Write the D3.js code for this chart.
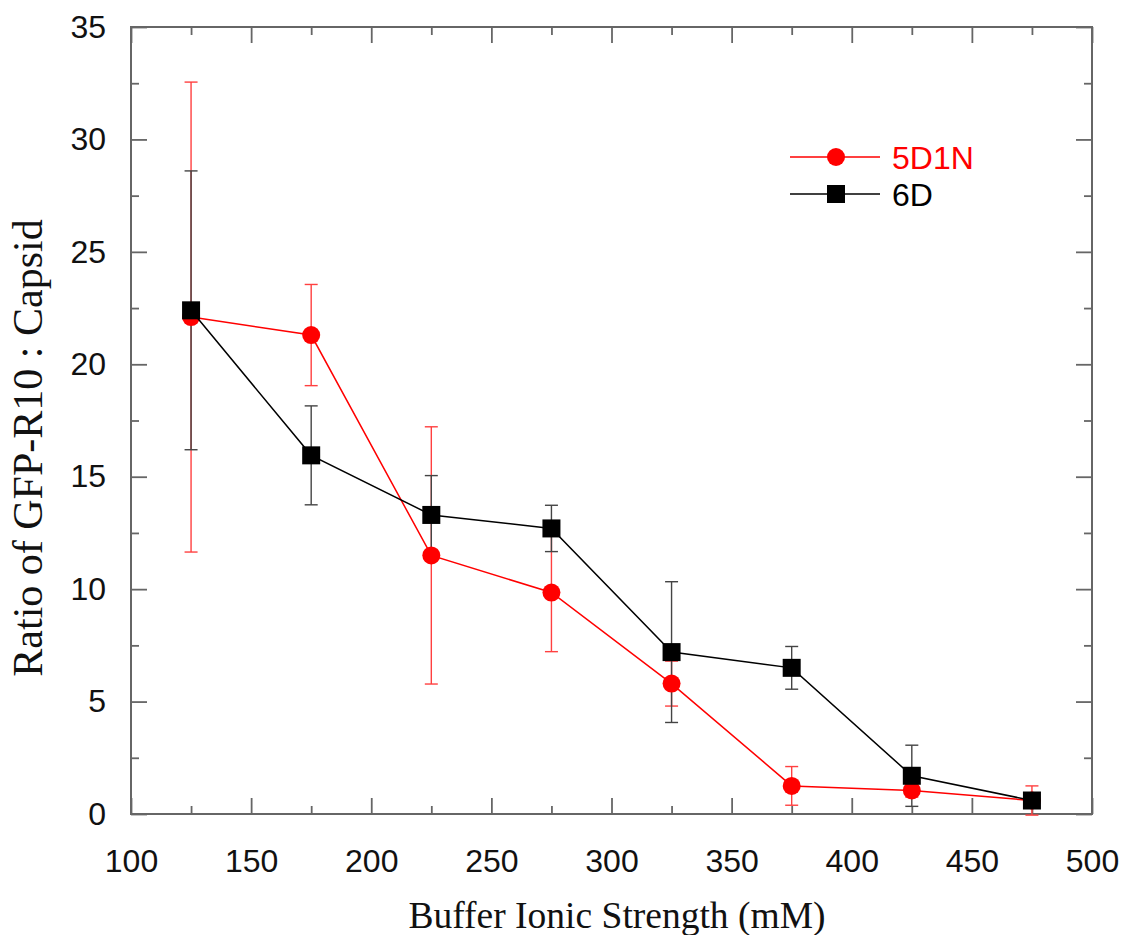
<!DOCTYPE html>
<html>
<head>
<meta charset="utf-8">
<script src="https://cdn.jsdelivr.net/npm/d3@7"></script>
<style>
  html, body { margin: 0; padding: 0; background: #fff; }
  svg { display: block; }
</style>
</head>
<body>
<svg id="chart" width="1124" height="935"></svg>
<script>
// Buffer ionic strength (mM)
const ionicStrength = [125, 175, 225, 275, 325, 375, 425, 475];

// Ratio of GFP-R10 : Capsid, mean and standard deviation per series
const mean5D1N = [22.1, 21.3, 11.5, 9.85, 5.8, 1.25, 1.05, 0.6];
const err5D1N  = [10.45, 2.25, 5.72, 2.63, 1.0, 0.86, 0.3, 0.65];
const mean6D   = [22.4, 15.95, 13.3, 12.7, 7.2, 6.5, 1.7, 0.6];
const err6D    = [6.2, 2.2, 1.75, 1.03, 3.13, 0.95, 1.36, 0.3];

const seriesNames = ["5D1N", "6D"];

const xTicks = [100, 150, 200, 250, 300, 350, 400, 450, 500];
const xMinorTicks = [125, 175, 225, 275, 325, 375, 425, 475];
const yTicks = [0, 5, 10, 15, 20, 25, 30, 35];
const yMinorTicks = [2.5, 7.5, 12.5, 17.5, 22.5, 27.5, 32.5];

const margin = { left: 131, right: 1124 - 1092, top: 27, bottom: 935 - 814 };
const W = 1124, H = 935;

const svg = d3.select("#chart");

const x = d3.scaleLinear().domain([100, 500]).range([margin.left, W - margin.right]);
const y = d3.scaleLinear().domain([0, 35]).range([H - margin.bottom, margin.top]);

const axisColor = "#666";
const tickFont = "'Liberation Sans', Arial, sans-serif";
const serifFont = "'Liberation Serif', 'Times New Roman', serif";

function styleAxis(g) {
  g.selectAll("path.domain").remove();
  g.selectAll(".tick line").attr("stroke", axisColor).attr("stroke-width", 1.8);
  g.selectAll(".tick text").attr("fill", "#111").style("font-family", tickFont).style("font-size", "32px");
}

const x0 = H - margin.bottom, y0 = margin.top;
const xl = margin.left, xr = W - margin.right;

// major and minor ticks on all four sides, pointing into the plot
svg.append("g").attr("transform", `translate(0,${x0})`)
  .call(d3.axisBottom(x).tickValues(xTicks).tickSize(-16).tickSizeOuter(0).tickPadding(35))
  .call(styleAxis);
svg.append("g").attr("transform", `translate(0,${x0})`)
  .call(d3.axisBottom(x).tickValues(xMinorTicks).tickSize(-8).tickSizeOuter(0).tickFormat(""))
  .call(styleAxis);
svg.append("g").attr("transform", `translate(0,${y0})`)
  .call(d3.axisTop(x).tickValues(xTicks).tickSize(-16).tickSizeOuter(0).tickFormat(""))
  .call(styleAxis);
svg.append("g").attr("transform", `translate(0,${y0})`)
  .call(d3.axisTop(x).tickValues(xMinorTicks).tickSize(-8).tickSizeOuter(0).tickFormat(""))
  .call(styleAxis);

svg.append("g").attr("transform", `translate(${xl},0)`)
  .call(d3.axisLeft(y).tickValues(yTicks).tickSize(-16).tickSizeOuter(0).tickPadding(25))
  .call(styleAxis);
svg.append("g").attr("transform", `translate(${xl},0)`)
  .call(d3.axisLeft(y).tickValues(yMinorTicks).tickSize(-8).tickSizeOuter(0).tickFormat(""))
  .call(styleAxis);
svg.append("g").attr("transform", `translate(${xr},0)`)
  .call(d3.axisRight(y).tickValues(yTicks).tickSize(-16).tickSizeOuter(0).tickFormat(""))
  .call(styleAxis);
svg.append("g").attr("transform", `translate(${xr},0)`)
  .call(d3.axisRight(y).tickValues(yMinorTicks).tickSize(-8).tickSizeOuter(0).tickFormat(""))
  .call(styleAxis);

// plot frame
svg.append("rect")
  .attr("x", xl).attr("y", y0)
  .attr("width", xr - xl).attr("height", x0 - y0)
  .attr("fill", "none").attr("stroke", axisColor).attr("stroke-width", 2);

// axis titles
svg.append("text")
  .attr("x", 617).attr("y", 928)
  .attr("text-anchor", "middle")
  .style("font-family", serifFont).style("font-size", "37.5px").attr("fill", "#111")
  .text("Buffer Ionic Strength (mM)");

svg.append("text")
  .attr("transform", "translate(42,448) rotate(-90)")
  .attr("text-anchor", "middle")
  .style("font-family", serifFont).style("font-size", "42px").attr("fill", "#111")
  .text("Ratio of GFP-R10 : Capsid");

const series = [
  { name: seriesNames[0], mean: mean5D1N, err: err5D1N, color: "#ff0000", errColor: "#ff4040", shape: "circle" },
  { name: seriesNames[1], mean: mean6D,   err: err6D,   color: "#000000", errColor: "#444444", shape: "square" }
];

const capHalf = 6.5;
const circleR = 9;
const squareHalf = 9;

function drawErrorBars(s) {
  const g = svg.append("g").attr("stroke", s.errColor).attr("stroke-width", 1.4).attr("fill", "none");
  ionicStrength.forEach((xv, i) => {
    const lo = s.mean[i] - s.err[i], hi = s.mean[i] + s.err[i];
    const cx = x(xv);
    g.append("line").attr("x1", cx).attr("x2", cx).attr("y1", y(lo)).attr("y2", y(hi));
    g.append("line").attr("x1", cx - capHalf).attr("x2", cx + capHalf).attr("y1", y(lo)).attr("y2", y(lo));
    g.append("line").attr("x1", cx - capHalf).attr("x2", cx + capHalf).attr("y1", y(hi)).attr("y2", y(hi));
  });
}

function drawLineAndMarkers(s) {
  const line = d3.line().x((d, i) => x(ionicStrength[i])).y(d => y(d));
  svg.append("path").datum(s.mean)
    .attr("d", line).attr("fill", "none").attr("stroke", s.color).attr("stroke-width", 1.5);
  const g = svg.append("g").attr("fill", s.color);
  if (s.shape === "circle") {
    g.selectAll("circle").data(s.mean).join("circle")
      .attr("cx", (d, i) => x(ionicStrength[i])).attr("cy", d => y(d)).attr("r", circleR);
  } else {
    g.selectAll("rect").data(s.mean).join("rect")
      .attr("x", (d, i) => x(ionicStrength[i]) - squareHalf).attr("y", d => y(d) - squareHalf)
      .attr("width", squareHalf * 2).attr("height", squareHalf * 2);
  }
}

drawErrorBars(series[0]);
drawErrorBars(series[1]);
drawLineAndMarkers(series[0]);
drawLineAndMarkers(series[1]);

// legend
const legend = svg.append("g");
series.forEach((s, i) => {
  const ly = 157 + i * 37;
  legend.append("line").attr("x1", 790).attr("x2", 880).attr("y1", ly).attr("y2", ly)
    .attr("stroke", s.color).attr("stroke-width", 1.5);
  if (s.shape === "circle") {
    legend.append("circle").attr("cx", 836).attr("cy", ly).attr("r", circleR).attr("fill", s.color);
  } else {
    legend.append("rect").attr("x", 836 - squareHalf).attr("y", ly - squareHalf)
      .attr("width", squareHalf * 2).attr("height", squareHalf * 2).attr("fill", s.color);
  }
  legend.append("text").attr("x", 892).attr("y", ly).attr("dy", "0.36em")
    .style("font-family", tickFont).style("font-size", "32px").attr("fill", s.color)
    .text(s.name);
});
</script>
</body>
</html>
